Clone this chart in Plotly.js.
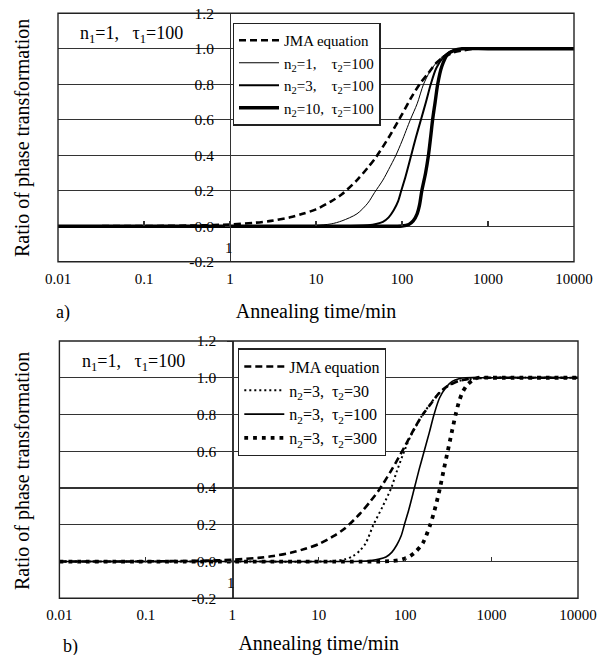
<!DOCTYPE html>
<html>
<head>
<meta charset="utf-8">
<script src="https://cdn.plot.ly/plotly-3.0.1.min.js"></script>
<style>html,body{margin:0;padding:0;background:#fff;}#chart{width:611px;height:655px;}</style>
</head>
<body>
<div id="chart"></div>
<script>
// ---------- data ----------
const xTickVals = [0.01, 0.1, 1, 10, 100, 1000, 10000];
const xTickText = ["0.01", "0.1", "1", "10", "100", "1000", "10000"];
const yTickVals = [-0.2, 0, 0.2, 0.4, 0.6, 0.8, 1.0, 1.2];
const yTickText = ["-0.2", "0.0", "0.2", "0.4", "0.6", "0.8", "1.0", "1.2"];

// JMA equation (n1=1, tau1=100)
const jmaT = [0.01, 0.1, 0.5, 1, 2, 3, 5, 7, 10, 15, 20, 30, 40, 50, 70, 100, 130, 160, 200, 250, 300, 400, 500, 700, 1000, 10000];
const jmaY = [0, 0.001, 0.005, 0.01, 0.02, 0.03, 0.05, 0.07, 0.095, 0.14, 0.18, 0.26, 0.33, 0.39, 0.50, 0.63, 0.73, 0.80, 0.86, 0.92, 0.95, 0.98, 0.99, 1.0, 1.0, 1.0];
// a) n2=1, tau2=100
const a1T = [0.01, 1, 5, 10, 15, 20, 30, 40, 48, 60, 70, 85, 100, 125, 150, 178, 210, 240, 300, 400, 550, 1000, 10000];
const a1Y = [0, 0, 0.001, 0.005, 0.013, 0.03, 0.07, 0.13, 0.19, 0.26, 0.32, 0.4, 0.48, 0.6, 0.69, 0.8, 0.87, 0.91, 0.96, 0.99, 1.0, 1.0, 1.0];
// a) and b) n2=3, tau2=100
const a3T = [0.01, 1, 20, 30, 40, 50, 60, 70, 80, 90, 98, 110, 128, 145, 166, 190, 216, 250, 300, 350, 420, 500, 1000, 10000];
const a3Y = [0, 0, 0, 0.002, 0.006, 0.013, 0.025, 0.05, 0.09, 0.14, 0.2, 0.28, 0.4, 0.5, 0.6, 0.7, 0.8, 0.89, 0.95, 0.98, 0.995, 1.0, 1.0, 1.0];
// a) n2=10, tau2=100
const a10T = [0.01, 1, 80, 100, 120, 135, 150, 160, 170, 188, 203, 215, 227, 243, 260, 290, 340, 400, 500, 1000, 10000];
const a10Y = [0, 0, 0, 0.001, 0.01, 0.03, 0.07, 0.12, 0.2, 0.3, 0.4, 0.5, 0.6, 0.7, 0.8, 0.9, 0.97, 0.99, 1.0, 1.0, 1.0];
// b) n2=3, tau2=30
const b30T = [0.01, 1, 10, 15, 20, 25, 30, 35, 43, 55, 69, 80, 94, 115, 135, 155, 190, 230, 300, 400, 500, 1000, 10000];
const b30Y = [0, 0, 0, 0.003, 0.012, 0.03, 0.06, 0.1, 0.2, 0.3, 0.4, 0.49, 0.58, 0.68, 0.74, 0.79, 0.85, 0.9, 0.95, 0.98, 0.99, 1.0, 1.0];
// b) n2=3, tau2=300
const b300T = [0.01, 1, 50, 70, 90, 110, 130, 160, 195, 225, 253, 280, 311, 345, 384, 420, 460, 520, 600, 700, 1000, 10000];
const b300Y = [0, 0, 0, 0.003, 0.01, 0.025, 0.05, 0.1, 0.2, 0.3, 0.4, 0.5, 0.6, 0.7, 0.8, 0.87, 0.92, 0.96, 0.985, 1.0, 1.0, 1.0];

const legendA = ["JMA equation", "n<sub>2</sub>=1,\u00a0\u00a0\u00a0\u00a0τ<sub>2</sub>=100", "n<sub>2</sub>=3,\u00a0\u00a0\u00a0\u00a0τ<sub>2</sub>=100", "n<sub>2</sub>=10,\u00a0\u00a0τ<sub>2</sub>=100"];
const legendB = ["JMA equation", "n<sub>2</sub>=3,\u00a0\u00a0τ<sub>2</sub>=30", "n<sub>2</sub>=3,\u00a0\u00a0τ<sub>2</sub>=100", "n<sub>2</sub>=3,\u00a0\u00a0τ<sub>2</sub>=300"];
const paramText = "n<sub>1</sub>=1,\u00a0\u00a0\u00a0τ<sub>1</sub>=100";
const xTitle = "Annealing time/min";
const yTitle = "Ratio of phase transformation";

// ---------- layout helpers ----------
const W = 611, H = 655;
const FONT = "Liberation Serif";
const px = p => p / W;
const py = p => 1 - p / H;
const topBox = {l: 58, r: 574, t: 13.3, b: 261.7};
const botBox = {l: 59.4, r: 578, t: 341, b: 598.3};
const GRID = "#333";
function yAt(box, v) { const y0 = py(box.b), y1 = py(box.t); return y0 + (v + 0.2) / 1.4 * (y1 - y0); }
function xAxisPos(box) { const x0 = px(box.l), x1 = px(box.r); return x0 + (2 / 6) * (x1 - x0); }
const black = "#000";
function line(w, dash) { const l = {color: black, width: w, shape: "spline", smoothing: 0.8}; if (dash) l.dash = dash; return l; }

const traces = [
  {x: jmaT, y: jmaY, name: legendA[0], xaxis: "x", yaxis: "y", legend: "legend", mode: "lines", line: line(2.6, "7px,4px")},
  {x: a1T, y: a1Y, name: legendA[1], xaxis: "x", yaxis: "y", legend: "legend", mode: "lines", line: line(1)},
  {x: a3T, y: a3Y, name: legendA[2], xaxis: "x", yaxis: "y", legend: "legend", mode: "lines", line: line(2)},
  {x: a10T, y: a10Y, name: legendA[3], xaxis: "x", yaxis: "y", legend: "legend", mode: "lines", line: line(3.4)},
  {x: jmaT, y: jmaY, name: legendB[0], xaxis: "x2", yaxis: "y2", legend: "legend2", mode: "lines", line: line(2.6, "7px,4px")},
  {x: b30T, y: b30Y, name: legendB[1], xaxis: "x2", yaxis: "y2", legend: "legend2", mode: "lines", line: line(2, "2px,3px")},
  {x: a3T, y: a3Y, name: legendB[2], xaxis: "x2", yaxis: "y2", legend: "legend2", mode: "lines", line: line(1.6)},
  {x: b300T, y: b300Y, name: legendB[3], xaxis: "x2", yaxis: "y2", legend: "legend2", mode: "lines", line: line(3.8, "3.8px,5px")},
  // carriers for the decade tick marks drawn along y = 0
  {x: jmaT, y: jmaY, xaxis: "x3", yaxis: "y", mode: "lines", opacity: 0, showlegend: false, hoverinfo: "skip", line: {width: 0}},
  {x: jmaT, y: jmaY, xaxis: "x4", yaxis: "y2", mode: "lines", opacity: 0, showlegend: false, hoverinfo: "skip", line: {width: 0}}
];

function xAxis(box, anchor) {
  return {domain: [px(box.l), px(box.r)], anchor: anchor, type: "log", range: [-2, 4],
    tickmode: "array", tickvals: xTickVals, ticktext: xTickText, ticks: "", ticklabelstandoff: 6,
    showgrid: false, zeroline: false, showline: false, tickfont: {family: FONT, size: 15, color: black},
    title: {text: xTitle, font: {family: FONT, size: 20, color: black}, standoff: 18}};
}
function yAxis(box) {
  return {domain: [py(box.b), py(box.t)], anchor: "free", position: xAxisPos(box), range: [-0.2, 1.2],
    tickmode: "array", tickvals: yTickVals, ticktext: yTickText,
    showgrid: true, gridcolor: GRID, gridwidth: 1.2, zeroline: false, showline: true, linecolor: GRID, linewidth: 1.3,
    ticks: "outside", ticklen: 5, tickcolor: GRID, ticklabelstandoff: 8, tickfont: {family: FONT, size: 15.5, color: black}};
}
function zeroTickAxis(box, over) {
  return {overlaying: over, anchor: "free", position: yAt(box, 0), side: "bottom", type: "log", range: [-2, 4],
    tickmode: "array", tickvals: xTickVals, ticks: "inside", ticklen: 5, tickcolor: GRID, tickwidth: 1.2,
    showticklabels: false, showgrid: false, zeroline: false, showline: false};
}
function legendAt(x, y, size) {
  return {x: px(x), y: py(y), xanchor: "left", yanchor: "top", bgcolor: "#fff", bordercolor: "#222", borderwidth: 1.3,
    font: {family: FONT, size: size, color: black}, itemwidth: 40, tracegroupgap: 0};
}
function note(text, x, y, size, extra) {
  return Object.assign({text: text, x: px(x), y: py(y), xref: "paper", yref: "paper", showarrow: false,
    xanchor: "center", yanchor: "middle", font: {family: FONT, size: size, color: black}}, extra || {});
}
function border(xr, yr) {
  return {type: "rect", xref: xr + " domain", yref: yr + " domain", x0: 0, x1: 1, y0: 0, y1: 1,
    line: {color: "#222", width: 1.4}, layer: "above"};
}

const layout = {
  width: W, height: H, margin: {l: 0, r: 0, t: 0, b: 0}, paper_bgcolor: "#fff", plot_bgcolor: "#fff", showlegend: true,
  font: {family: FONT, color: black},
  xaxis: xAxis(topBox, "y"), yaxis: yAxis(topBox), xaxis2: xAxis(botBox, "y2"), yaxis2: yAxis(botBox),
  xaxis3: zeroTickAxis(topBox, "x"), xaxis4: zeroTickAxis(botBox, "x2"),
  legend: legendAt(232.7, 22.7, 15), legend2: legendAt(238, 348.3, 16),
  shapes: [border("x", "y"), border("x2", "y2")],
  annotations: [
    note(yTitle, 22, 138, 20, {textangle: -90}),
    note(yTitle, 22, 471, 20, {textangle: -90}),
    note(paramText, 131, 35, 18),
    note(paramText, 133, 362, 18),
    note("a)", 63, 312, 18),
    note("b)", 70, 646, 18),
    note("1", 229, 248, 15),
    note("1", 231, 583, 15)
  ]
};

Plotly.newPlot("chart", traces, layout, {staticPlot: true, displayModeBar: false});
</script>
</body>
</html>
